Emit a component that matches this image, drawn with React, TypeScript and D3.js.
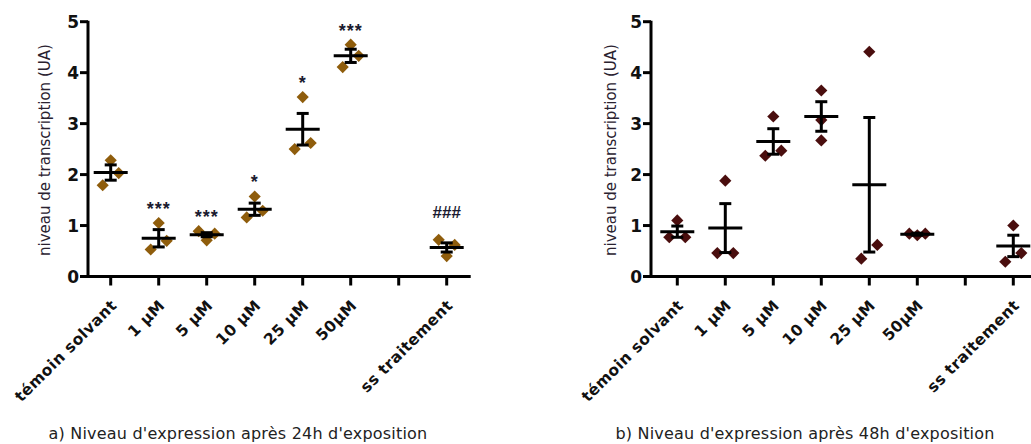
import React from 'react';
import * as d3 from 'd3';

// ---------- data ----------
const categories = ['témoin solvant', '1 µM', '5 µM', '10 µM', '25 µM', '50µM', '', 'ss traitement'];
const yTicks = [0, 1, 2, 3, 4, 5];

// a) 24h exposure
const points24: number[][] = [
  [1.79, 2.28, 2.03],
  [0.53, 1.05, 0.70],
  [0.89, 0.71, 0.84],
  [1.16, 1.57, 1.29],
  [2.50, 3.52, 2.62],
  [4.11, 4.55, 4.33],
  [],
  [0.72, 0.40, 0.62],
];
const means24: (number | null)[] = [2.04, 0.75, 0.82, 1.32, 2.89, 4.33, null, 0.57];
const sems24: (number | null)[] = [0.15, 0.17, 0.04, 0.12, 0.31, 0.13, null, 0.09];
const annot24 = ['', '***', '***', '*', '*', '***', '', '###'];
const title24 = "a) Niveau d'expression après 24h d'exposition";

// b) 48h exposure
const points48: number[][] = [
  [0.77, 1.10, 0.77],
  [0.46, 1.88, 0.46],
  [2.37, 3.14, 2.47],
  [3.65, 3.07, 2.67],
  [0.35, 4.41, 0.62],
  [0.84, 0.81, 0.84],
  [],
  [0.29, 1.00, 0.46],
];
const means48: (number | null)[] = [0.88, 0.95, 2.65, 3.14, 1.80, 0.83, null, 0.60];
const sems48: (number | null)[] = [0.11, 0.48, 0.25, 0.29, 1.32, 0.02, null, 0.21];
const annot48 = ['', '', '', '', '', '', '', ''];
const title48 = "b) Niveau d'expression après 48h d'exposition";

const yLabel = 'niveau de transcription (UA)';

// ---------- styles ----------
const SANS = '"DejaVu Sans", Verdana, sans-serif';

type PanelProps = {
  points: number[][];
  means: (number | null)[];
  sems: (number | null)[];
  annots: string[];
  title: string;
  axisX: number;
  xStart: number;
  color: string;
  titleX: number;
  yLabelX: number;
};

function Panel({ points, means, sems, annots, title, axisX, xStart, color, titleX, yLabelX }: PanelProps) {
  const y = d3.scaleLinear().domain([0, 5]).range([276.5, 21.7]);
  const x = d3.scalePoint<string>().domain(categories).range([xStart, xStart + 384]).padding(0.5);
  const axisY = y(0);
  const xEnd = xStart + 384;
  const diamond = d3.symbol().type(d3.symbolSquare).size(74)() as string;

  return (
    <g>
      {/* y axis */}
      <line x1={axisX} x2={axisX} y1={y(5) - 1} y2={axisY + 1.5} stroke="#000" strokeWidth={3} />
      {yTicks.map((t) => (
        <g key={t}>
          <line x1={axisX - 8} x2={axisX} y1={y(t)} y2={y(t)} stroke="#000" strokeWidth={3} />
          <text x={axisX - 9} y={y(t)} dy="0.36em" textAnchor="end" fontFamily={SANS} fontWeight="bold" fontSize={17} fill="#111">
            {t}
          </text>
        </g>
      ))}
      <text
        transform={`translate(${yLabelX},${(y(0) + y(5)) / 2 + 1}) rotate(-90)`}
        textAnchor="middle"
        fontFamily={SANS}
        fontSize={15}
        fill="#2a2230"
      >
        {yLabel}
      </text>
      {/* x axis */}
      <line x1={axisX - 1.5} x2={xEnd} y1={axisY} y2={axisY} stroke="#000" strokeWidth={3} />
      {categories.map((c) => (
        <line key={'t' + c} x1={x(c)!} x2={x(c)!} y1={axisY} y2={axisY + 9} stroke="#000" strokeWidth={3} />
      ))}
      {categories.map((c) =>
        c ? (
          <text
            key={'l' + c}
            transform={`translate(${x(c)! + 7},${axisY + 30}) rotate(-45)`}
            textAnchor="end"
            fontFamily={SANS}
            fontWeight="bold"
            fontSize={15.5}
            letterSpacing={0.4}
            fill="#111"
          >
            {c}
          </text>
        ) : null
      )}
      {/* points */}
      {categories.map((c, i) => {
        const vals = points[i];
        if (!vals.length) return null;
        const sorted = [...vals].sort((a, b) => a - b);
        let crowded = false;
        for (let k = 1; k < sorted.length; k++) {
          if (y(sorted[k - 1]) - y(sorted[k]) < 16) crowded = true;
        }
        return vals.map((v, k) => {
          const off = crowded ? (k - 1) * 8 : 0;
          return (
            <path
              key={c + k}
              d={diamond}
              transform={`translate(${x(c)! + off},${y(v)}) rotate(45)`}
              fill={color}
            />
          );
        });
      })}
      {/* mean + SEM */}
      {categories.map((c, i) => {
        const m = means[i];
        const s = sems[i];
        if (m == null || s == null) return null;
        const cx = x(c)!;
        return (
          <g key={'m' + c} stroke="#000" strokeWidth={3}>
            <line x1={cx - 17} x2={cx + 17} y1={y(m)} y2={y(m)} />
            <line x1={cx} x2={cx} y1={y(m + s)} y2={y(m - s)} />
            <line x1={cx - 6} x2={cx + 6} y1={y(m + s)} y2={y(m + s)} />
            <line x1={cx - 6} x2={cx + 6} y1={y(m - s)} y2={y(m - s)} />
          </g>
        );
      })}
      {/* significance */}
      {categories.map((c, i) => {
        const a = annots[i];
        if (!a || !points[i].length) return null;
        const top = y(d3.max(points[i])!);
        const isHash = a.startsWith('#');
        return (
          <text
            key={'a' + c}
            x={x(c)!}
            y={isHash ? top - 22 : top - 8}
            textAnchor="middle"
            fontFamily='"Liberation Sans", Arial, sans-serif'
            fontWeight="bold"
            fontSize={isHash ? 17 : 18}
            letterSpacing={isHash ? 0 : 1}
            fill="#1a1a30"
          >
            {a}
          </text>
        );
      })}
      {/* title */}
      <text x={titleX} y={439} textAnchor="middle" fontFamily={SANS} fontSize={16} letterSpacing={0.2} fill="#222">
        {title}
      </text>
    </g>
  );
}

export default function App() {
  return (
    <svg
      width={1031}
      height={444}
      style={{ position: 'absolute', left: 0, top: 0, background: '#fff' }}
    >
      <rect width={1031} height={444} fill="#fff" />
      <Panel
        points={points24}
        means={means24}
        sems={sems24}
        annots={annot24}
        title={title24}
        axisX={88}
        xStart={86.7}
        color="#8f5d0c"
        titleX={238}
        yLabelX={50}
      />
      <Panel
        points={points48}
        means={means48}
        sems={sems48}
        annots={annot48}
        title={title48}
        axisX={651}
        xStart={653.3}
        color="#4a0e0e"
        titleX={805}
        yLabelX={616}
      />
    </svg>
  );
}
